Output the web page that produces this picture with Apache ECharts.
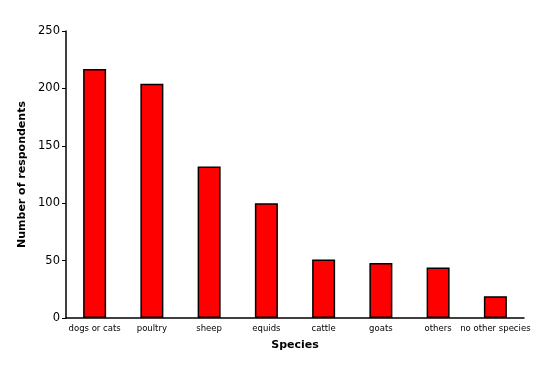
<!DOCTYPE html>
<html><head><meta charset="utf-8">
<script src="https://cdn.jsdelivr.net/npm/echarts@6/dist/echarts.min.js"></script>
<style>html,body{margin:0;padding:0;background:#fff}#c{width:552px;height:368px}</style>
</head><body><div id="c"></div>
<script>
var categories = ["dogs or cats","poultry","sheep","equids","cattle","goats","others","no other species"];
var respondents = [217, 204, 132, 100, 51, 48, 44, 19];
var chart = echarts.init(document.getElementById('c'), null, {renderer:'canvas'});
chart.setOption({
  animation:false,
  backgroundColor:'#fff',
  grid:{left:66, right:28, top:31, bottom:50},
  xAxis:{
    type:'category', data:categories,
    name:'Species', nameLocation:'middle', nameGap:22,
    nameTextStyle:{fontFamily:'DejaVu Sans', fontWeight:'bold', fontSize:11, color:'#000'},
    axisLine:{lineStyle:{color:'#000', width:1.5}},
    axisTick:{alignWithLabel:true, length:4, lineStyle:{color:'#000'}},
    axisLabel:{fontFamily:'DejaVu Sans', fontSize:8.5, color:'#000', margin:6, interval:0}
  },
  yAxis:{
    type:'value', min:0, max:250, interval:50,
    name:'Number of respondents', nameLocation:'middle', nameGap:37,
    nameTextStyle:{fontFamily:'DejaVu Sans', fontWeight:'bold', fontSize:11, color:'#000'},
    axisLine:{show:true, lineStyle:{color:'#000', width:1.5}},
    axisTick:{show:true, length:4, lineStyle:{color:'#000'}},
    axisLabel:{fontFamily:'DejaVu Sans', fontSize:11.5, color:'#000', margin:6},
    splitLine:{show:false}
  },
  series:[{
    type:'bar', data:respondents, barWidth:23,
    itemStyle:{color:'#ff0000', borderColor:'#000', borderWidth:1.5}
  }]
});
</script></body></html>
